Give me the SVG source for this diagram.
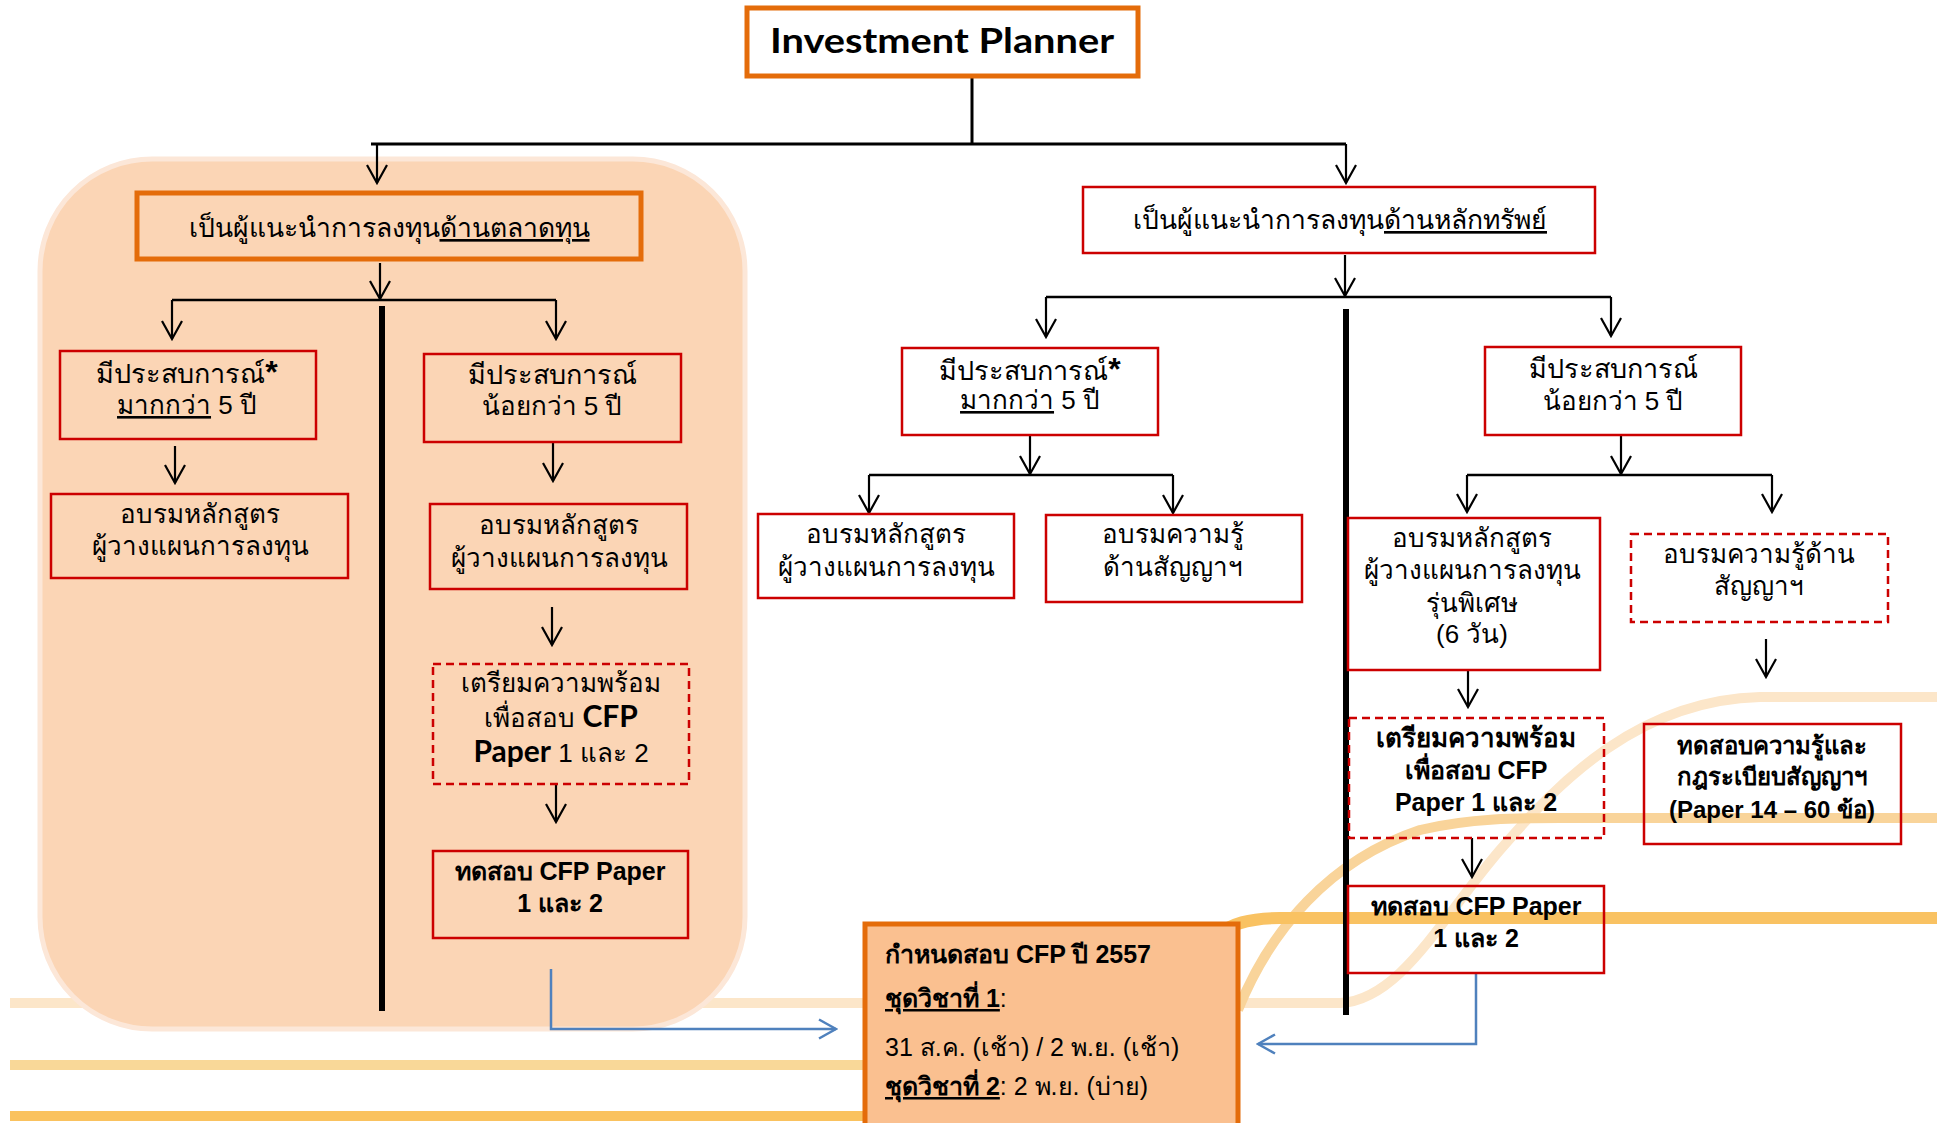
<svg xmlns="http://www.w3.org/2000/svg" width="1937" height="1123" viewBox="0 0 1937 1123">
<defs>
<style>
.t{font-family:'Liberation Sans',sans-serif;font-size:26px;fill:#000;text-anchor:middle}
.l{text-anchor:start}
.b{font-weight:bold}
.s24{font-size:24px}
.s25{font-size:25px}
.en{font-family:Lato,'Liberation Sans',sans-serif;font-weight:bold}
.star{font-weight:bold;font-size:32px}
.box{fill:none;stroke:#CC0000;stroke-width:2.5}
.wbox{fill:#fff;stroke:#CC0000;stroke-width:2.5}
.dash{stroke-dasharray:8 5}
.ln{stroke:#000;stroke-width:2.5;fill:none}
.arr{stroke:#000;stroke-width:2.2;fill:none;marker-end:url(#ah)}
.sep{stroke:#000;stroke-width:6}
.blue{stroke:#4F81BD;stroke-width:2.5;fill:none;marker-end:url(#bh)}
.band{fill:none;stroke-linecap:butt}
</style>
<marker id="ah" markerUnits="userSpaceOnUse" viewBox="0 0 22 22" markerWidth="22" markerHeight="22" refX="20" refY="11" orient="auto">
<path d="M2,1 L20,11 L2,21" fill="none" stroke="#000" stroke-width="2.2"/>
</marker>
<marker id="bh" markerUnits="userSpaceOnUse" viewBox="0 0 22 22" markerWidth="22" markerHeight="22" refX="20" refY="11" orient="auto">
<path d="M3,1.5 L20,11 L3,20.5" fill="none" stroke="#4F81BD" stroke-width="2.5"/>
</marker>
</defs>
<rect width="1937" height="1123" fill="#fff"/>

<g id="background">
<path class="band" d="M10 1003 L1340 1003 C1400 1000 1440 920 1500 850 C1560 780 1640 700 1760 697 L1937 697" stroke="#FCE6C9" stroke-width="10"/>
<path class="band" d="M10 1065 L1150 1065 C1200 1065 1215 1030 1225 990" stroke="#F9D898" stroke-width="10"/>
<path class="band" d="M10 1116 L1200 1116" stroke="#FAC25E" stroke-width="10"/>
<path class="band" d="M1238 1010 C1270 930 1330 860 1420 830 C1470 818 1520 818 1560 818 L1937 818" stroke="#F9D49A" stroke-width="10"/>
<path class="band" d="M1180 1000 C1200 940 1220 918 1280 918 L1937 918" stroke="#F9C262" stroke-width="12"/>
</g>

<g id="panel">
<rect x="40" y="159" width="705" height="870" rx="112" ry="112" fill="#FBD5B5" stroke="#FCE7D8" stroke-width="5"/>
</g>

<g id="connectors">
<line class="ln" x1="972" y1="77" x2="972" y2="144" style="stroke-width:3"/>
<line class="ln" x1="371" y1="144" x2="1346" y2="144" style="stroke-width:3"/>
<line class="arr" x1="377" y1="144" x2="377" y2="183"/>
<line class="arr" x1="1346" y1="144" x2="1346" y2="183"/>

<line class="arr" x1="380" y1="263" x2="380" y2="299"/>
<line class="ln" x1="172" y1="300" x2="556" y2="300"/>
<line class="arr" x1="172" y1="300" x2="172" y2="339"/>
<line class="arr" x1="556" y1="300" x2="556" y2="339"/>
<line class="sep" x1="382" y1="306" x2="382" y2="1011"/>
<line class="arr" x1="175" y1="446" x2="175" y2="483"/>
<line class="arr" x1="553" y1="443" x2="553" y2="481"/>
<line class="arr" x1="552" y1="607" x2="552" y2="645"/>
<line class="arr" x1="556" y1="785" x2="556" y2="822"/>
<path class="blue" d="M551 969 L551 1029 L836 1029"/>

<line class="arr" x1="1345" y1="255" x2="1345" y2="296"/>
<line class="ln" x1="1046" y1="297" x2="1611" y2="297"/>
<line class="arr" x1="1046" y1="297" x2="1046" y2="337"/>
<line class="arr" x1="1611" y1="297" x2="1611" y2="336"/>
<line class="sep" x1="1346" y1="309" x2="1346" y2="1015"/>
<line class="arr" x1="1030" y1="435" x2="1030" y2="474"/>
<line class="ln" x1="869" y1="475" x2="1173" y2="475"/>
<line class="arr" x1="869" y1="475" x2="869" y2="513"/>
<line class="arr" x1="1173" y1="475" x2="1173" y2="513"/>
<line class="arr" x1="1621" y1="435" x2="1621" y2="474"/>
<line class="ln" x1="1467" y1="475" x2="1772" y2="475"/>
<line class="arr" x1="1467" y1="475" x2="1467" y2="512"/>
<line class="arr" x1="1772" y1="475" x2="1772" y2="512"/>
<line class="arr" x1="1468" y1="670" x2="1468" y2="707"/>
<line class="arr" x1="1472" y1="838" x2="1472" y2="877"/>
<line class="arr" x1="1766" y1="639" x2="1766" y2="677"/>
<path class="blue" d="M1476 973 L1476 1044 L1258 1044"/>
</g>

<g id="n-ip">
<rect x="747" y="8" width="391" height="68" fill="#fff" stroke="#E46C0A" stroke-width="5"/>
<text class="t en" x="942" y="53" style="font-size:35px" textLength="344" lengthAdjust="spacingAndGlyphs">Investment Planner</text>
</g>

<g id="n-market">
<rect x="137" y="193" width="504" height="66" fill="none" stroke="#E46C0A" stroke-width="5"/>
<text class="t" x="389" y="237" style="font-size:26.5px">เป็นผู้แนะนำการลงทุน<tspan text-decoration="underline">ด้านตลาดทุน</tspan></text>
</g>

<g id="n-m-more">
<rect class="box" x="60" y="351" width="256" height="88"/>
<text class="t" x="187" y="383" style="font-size:27px">มีประสบการณ์<tspan class="star">*</tspan></text>
<text class="t" x="187" y="414"><tspan text-decoration="underline">มากกว่า</tspan> 5 ปี</text>
</g>

<g id="n-m-less">
<rect class="box" x="424" y="354" width="257" height="88"/>
<text class="t" x="552" y="384" style="font-size:27px">มีประสบการณ์</text>
<text class="t" x="552" y="415">น้อยกว่า 5 ปี</text>
</g>

<g id="n-m-course1">
<rect class="box" x="51" y="494" width="297" height="84"/>
<text class="t" x="200" y="523">อบรมหลักสูตร</text>
<text class="t" x="200" y="555">ผู้วางแผนการลงทุน</text>
</g>

<g id="n-m-course2">
<rect class="box" x="430" y="504" width="257" height="85"/>
<text class="t" x="559" y="534">อบรมหลักสูตร</text>
<text class="t" x="559" y="567">ผู้วางแผนการลงทุน</text>
</g>

<g id="n-m-prep">
<rect class="box dash" x="433" y="664" width="256" height="120"/>
<text class="t" x="561" y="692" style="font-size:26px">เตรียมความพร้อม</text>
<text class="t" x="561" y="727">เพื่อสอบ <tspan class="en" style="font-size:30px">CFP</tspan></text>
<text class="t" x="561" y="762"><tspan class="en" style="font-size:30px">Paper</tspan> 1 และ 2</text>
</g>

<g id="n-m-exam">
<rect class="box" x="433" y="851" width="255" height="87"/>
<text class="t b s25" x="560" y="880">ทดสอบ CFP Paper</text>
<text class="t b s25" x="560" y="912">1 และ 2</text>
</g>

<g id="n-sec">
<rect class="wbox" x="1083" y="187" width="512" height="66"/>
<text class="t" x="1340" y="229" style="font-size:26.5px">เป็นผู้แนะนำการลงทุน<tspan text-decoration="underline">ด้านหลักทรัพย์</tspan></text>
</g>

<g id="n-s-more">
<rect class="wbox" x="902" y="348" width="256" height="87"/>
<text class="t" x="1030" y="380" style="font-size:27px">มีประสบการณ์<tspan class="star">*</tspan></text>
<text class="t" x="1030" y="409"><tspan text-decoration="underline">มากกว่า</tspan> 5 ปี</text>
</g>

<g id="n-s-less">
<rect class="wbox" x="1485" y="347" width="256" height="88"/>
<text class="t" x="1613" y="378" style="font-size:27px">มีประสบการณ์</text>
<text class="t" x="1613" y="410">น้อยกว่า 5 ปี</text>
</g>

<g id="n-s-course">
<rect class="wbox" x="758" y="514" width="256" height="84"/>
<text class="t" x="886" y="543">อบรมหลักสูตร</text>
<text class="t" x="886" y="576">ผู้วางแผนการลงทุน</text>
</g>

<g id="n-s-deriv">
<rect class="wbox" x="1046" y="515" width="256" height="87"/>
<text class="t" x="1173" y="543">อบรมความรู้</text>
<text class="t" x="1173" y="576">ด้านสัญญาฯ</text>
</g>

<g id="n-s-special">
<rect class="wbox" x="1348" y="518" width="252" height="152"/>
<text class="t" x="1472" y="547">อบรมหลักสูตร</text>
<text class="t" x="1472" y="579">ผู้วางแผนการลงทุน</text>
<text class="t" x="1472" y="612">รุ่นพิเศษ</text>
<text class="t" x="1472" y="643">(6 วัน)</text>
</g>

<g id="n-s-deriv2">
<rect class="wbox dash" x="1631" y="534" width="257" height="88"/>
<text class="t" x="1759" y="563">อบรมความรู้ด้าน</text>
<text class="t" x="1759" y="595">สัญญาฯ</text>
</g>

<g id="n-s-prep">
<rect class="box dash" x="1349" y="718" width="255" height="120"/>
<text class="t b" x="1476" y="747">เตรียมความพร้อม</text>
<text class="t b s25" x="1476" y="779">เพื่อสอบ CFP</text>
<text class="t b s25" x="1476" y="811">Paper 1 และ 2</text>
</g>

<g id="n-s-exam">
<rect class="box" x="1348" y="886" width="256" height="87"/>
<text class="t b s25" x="1476" y="915">ทดสอบ CFP Paper</text>
<text class="t b s25" x="1476" y="947">1 และ 2</text>
</g>

<g id="n-s-derivexam">
<rect class="box" x="1644" y="724" width="257" height="120"/>
<text class="t b s24" x="1772" y="754">ทดสอบความรู้และ</text>
<text class="t b s24" x="1772" y="785">กฎระเบียบสัญญาฯ</text>
<text class="t b s24" x="1772" y="818">(Paper 14 – 60 ข้อ)</text>
</g>

<g id="n-schedule">
<rect x="865" y="924" width="373" height="215" fill="#FAC090" stroke="#E46C0A" stroke-width="5"/>
<text class="t l b s25" x="885" y="963">กำหนดสอบ CFP ปี 2557</text>
<text class="t l s25" x="885" y="1007"><tspan class="b" text-decoration="underline">ชุดวิชาที่ 1</tspan>:</text>
<text class="t l s25" x="885" y="1056">31 ส.ค. (เช้า) / 2 พ.ย. (เช้า)</text>
<text class="t l s25" x="885" y="1095"><tspan class="b" text-decoration="underline">ชุดวิชาที่ 2</tspan>: 2 พ.ย. (บ่าย)</text>
</g>
</svg>
